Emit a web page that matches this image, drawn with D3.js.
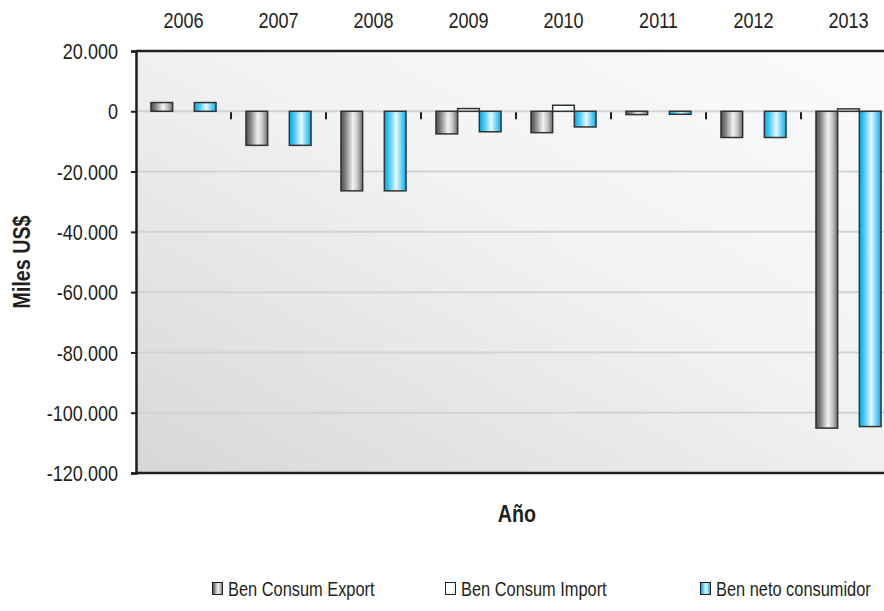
<!DOCTYPE html>
<html>
<head>
<meta charset="utf-8">
<script src="https://cdn.jsdelivr.net/npm/d3@7"></script>
<style>
  html, body { margin: 0; padding: 0; background: #ffffff; }
  svg { display: block; }
  text { font-family: "Liberation Sans", Arial, sans-serif; fill: #231f20; }
</style>
</head>
<body>
<svg id="chart" width="884" height="611"></svg>
<script>
// ---- Data (Miles US$) ----
const years = ["2006", "2007", "2008", "2009", "2010", "2011", "2012", "2013"];
const benConsumExport = [2900, -11300, -26400, -7500, -7100, -1100, -8700, -105100];
const benConsumImport = [0, 0, 0, 900, 2000, 0, 0, 800];
const benNetoConsumidor = [2900, -11300, -26400, -6800, -5200, -1000, -8700, -104600];
const seriesNames = ["Ben Consum Export", "Ben Consum Import", "Ben neto consumidor"];
const yTicks = [20000, 0, -20000, -40000, -60000, -80000, -100000, -120000];
const yDomain = [-120000, 20000];
const yTitle = "Miles US$";
const xTitle = "Año";

const seriesValues = [benConsumExport, benConsumImport, benNetoConsumidor];
const SQ = 0.82; // horizontal squeeze to mimic a narrow typeface

const svg = d3.select("#chart");
const plot = { left: 136, right: 896, top: 51, bottom: 473 };

const defs = svg.append("defs");
const bg = defs.append("linearGradient").attr("id", "bgGrad")
  .attr("x1", "0%").attr("y1", "100%").attr("x2", "100%").attr("y2", "0%");
bg.append("stop").attr("offset", "0%").attr("stop-color", "#d6d7d9");
bg.append("stop").attr("offset", "55%").attr("stop-color", "#f1f2f2");
bg.append("stop").attr("offset", "100%").attr("stop-color", "#fbfbfb");

function cyl(id, stops) {
  const g = defs.append("linearGradient").attr("id", id)
    .attr("x1", "0%").attr("y1", "0%").attr("x2", "100%").attr("y2", "0%");
  stops.forEach(s => g.append("stop").attr("offset", s[0]).attr("stop-color", s[1]));
}
cyl("grayGrad", [["0%", "#4d4d4f"], ["20%", "#808082"], ["55%", "#f2f2f2"], ["75%", "#c9c9ca"], ["100%", "#6d6e70"]]);
cyl("blueGrad", [["0%", "#00aeef"], ["20%", "#3cc3f3"], ["55%", "#e8f8fe"], ["78%", "#6fd3f6"], ["100%", "#00aeef"]]);
cyl("whiteGrad", [["0%", "#ffffff"], ["50%", "#ffffff"], ["100%", "#e2f4fc"]]);

const fills = ["url(#grayGrad)", "url(#whiteGrad)", "url(#blueGrad)"];

const x0 = d3.scaleBand().domain(years).range([plot.left, plot.right]).padding(0);
const x1 = d3.scaleBand().domain(seriesNames).range([0, x0.bandwidth()]).paddingInner(0).paddingOuter(0.69);
const y = d3.scaleLinear().domain(yDomain).range([plot.bottom, plot.top]);

const loc = d3.formatLocale({ decimal: ",", thousands: ".", grouping: [3], currency: ["$", ""], minus: "-" });
const fmt = loc.format(",.0f");

function squeeze(sel) {
  sel.each(function () {
    const t = d3.select(this);
    const x = +t.attr("x") || 0, yy = +t.attr("y") || 0;
    t.attr("x", 0).attr("y", 0)
      .attr("transform", `translate(${x},${yy}) scale(${SQ},1)`);
  });
}

svg.append("rect")
  .attr("x", plot.left).attr("y", plot.top)
  .attr("width", plot.right - plot.left).attr("height", plot.bottom - plot.top)
  .attr("fill", "url(#bgGrad)");

svg.append("g").selectAll("line").data(yTicks).join("line")
  .attr("x1", plot.left).attr("x2", plot.right)
  .attr("y1", d => y(d)).attr("y2", d => y(d))
  .attr("stroke", "#d2d3d5").attr("stroke-width", 2);

svg.append("g").selectAll("line").data(years.slice(1)).join("line")
  .attr("x1", d => x0(d)).attr("x2", d => x0(d))
  .attr("y1", y(0) + 1).attr("y2", y(0) + 8)
  .attr("stroke", "#231f20").attr("stroke-width", 2);

const groups = svg.append("g").selectAll("g").data(years).join("g")
  .attr("transform", d => `translate(${x0(d)},0)`);
groups.selectAll("rect")
  .data((d, i) => seriesNames.map((s, j) => ({ s, j, v: seriesValues[j][i] })))
  .join("rect")
  .filter(d => d.v !== 0)
  .attr("x", d => x1(d.s))
  .attr("width", x1.bandwidth())
  .attr("y", d => Math.min(y(d.v), y(0)))
  .attr("height", d => Math.abs(y(d.v) - y(0)))
  .attr("fill", d => fills[d.j])
  .attr("stroke", "#333333").attr("stroke-width", 1.5);

svg.append("line").attr("x1", plot.left).attr("x2", plot.right).attr("y1", plot.top).attr("y2", plot.top)
  .attr("stroke", "#231f20").attr("stroke-width", 2.5);
svg.append("line").attr("x1", plot.left).attr("x2", plot.right).attr("y1", plot.bottom).attr("y2", plot.bottom)
  .attr("stroke", "#231f20").attr("stroke-width", 2.5);

const yAxis = d3.axisLeft(y).tickValues(yTicks).tickFormat(fmt).tickSize(5).tickPadding(13);
const ya = svg.append("g").attr("transform", `translate(${plot.left},0)`).call(yAxis);
ya.select(".domain").attr("stroke", "#231f20").attr("stroke-width", 2.5);
ya.selectAll(".tick line").attr("stroke", "#231f20").attr("stroke-width", 2);
ya.selectAll(".tick text").attr("font-size", 22).attr("fill", "#231f20")
  .style("font-family", '"Liberation Sans", Arial, sans-serif')
  .attr("dy", "0.35em").call(squeeze);

const xAxis = d3.axisTop(x0).tickSize(0).tickPadding(23);
const xa = svg.append("g").attr("transform", `translate(0,${plot.top})`).call(xAxis);
xa.select(".domain").remove();
xa.selectAll(".tick text").attr("font-size", 22).attr("fill", "#231f20")
  .style("font-family", '"Liberation Sans", Arial, sans-serif').call(squeeze);

svg.append("text").attr("transform", `translate(30,262) rotate(-90) scale(${SQ},1)`)
  .attr("text-anchor", "middle").attr("font-size", 24).attr("font-weight", "bold").text(yTitle);
svg.append("text").attr("transform", `translate(517,522) scale(${SQ},1)`)
  .attr("text-anchor", "middle").attr("font-size", 24).attr("font-weight", "bold").text(xTitle);

// legend
const legX = [212, 445, 700];
const leg = svg.append("g").selectAll("g").data(seriesNames).join("g")
  .attr("transform", (d, i) => `translate(${legX[i]},582)`);
leg.append("rect").attr("x", 0.5).attr("y", 0.5).attr("width", 10).attr("height", 12)
  .attr("fill", (d, i) => fills[i]).attr("stroke", "#231f20").attr("stroke-width", 1);
leg.append("text").attr("transform", `translate(16,13.5) scale(${SQ},1)`).attr("font-size", 20).text(d => d);
</script>
</body>
</html>
